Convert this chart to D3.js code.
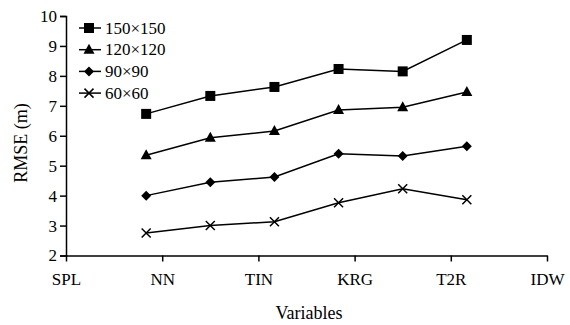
<!DOCTYPE html>
<html><head><meta charset="utf-8">
<script src="https://cdn.jsdelivr.net/npm/d3@7"></script>
<style>body{margin:0;background:#fff}svg{display:block}text{font-family:"Liberation Serif","Times New Roman",serif;fill:#000}</style>
</head><body>
<svg id="c" width="570" height="325"></svg>
<script>
const categories = ["SPL","NN","TIN","KRG","T2R","IDW"];
const seriesNames = ["150×150","120×120","90×90","60×60"];
const s150 = [6.73, 7.33, 7.63, 8.23, 8.15, 9.2];
const s120 = [5.35, 5.93, 6.16, 6.86, 6.95, 7.46];
const s90  = [4.0, 4.45, 4.62, 5.4, 5.32, 5.65];
const s60  = [2.75, 3.0, 3.13, 3.76, 4.23, 3.86];
const yTicks = [2,3,4,5,6,7,8,9,10];

const series = [
  {name: seriesNames[0], values: s150, sym: "square"},
  {name: seriesNames[1], values: s120, sym: "triangle"},
  {name: seriesNames[2], values: s90, sym: "diamond"},
  {name: seriesNames[3], values: s60, sym: "cross"}
];

const svg = d3.select("#c");
const L = 66, R = 547, T = 16, B = 255.5;
const x = d3.scalePoint().domain(categories).range([L, R]).padding(0);
const xd = d3.scalePoint().domain(categories).range([L, R]).padding(1.25);
const y = d3.scaleLinear().domain([2, 10]).range([B, T]);

const fs = "17px";
// Y axis
const ya = svg.append("g").attr("transform", `translate(${L},0)`)
  .call(d3.axisLeft(y).tickValues(yTicks).tickSize(6).tickPadding(3).tickFormat(d3.format("d")));
ya.select(".domain").attr("stroke", "#000").attr("stroke-width", 1.5);
ya.selectAll(".tick line").attr("stroke", "#000").attr("stroke-width", 1.5);
ya.selectAll("text").style("font-size", fs).style("font-family", "Liberation Serif");

// X axis
const xa = svg.append("g").attr("transform", `translate(0,${B})`)
  .call(d3.axisBottom(x).tickSize(6).tickSizeOuter(0).tickPadding(11));
xa.select(".domain").attr("stroke", "#000").attr("stroke-width", 1.5);
xa.selectAll(".tick line").attr("stroke", "#000").attr("stroke-width", 1.5);
xa.selectAll("text").style("font-size", fs).style("font-family", "Liberation Serif");

// titles
svg.append("text").attr("x", 309).attr("y", 319).attr("text-anchor", "middle")
  .style("font-size", "18px").text("Variables");
svg.append("text").attr("transform", `translate(27,143) rotate(-90)`)
  .attr("text-anchor", "middle").style("font-size", "18px").text("RMSE (m)");

function drawSym(g, sym, cx, cy) {
  if (sym === "square") {
    g.append("rect").attr("x", cx - 5).attr("y", cy - 5).attr("width", 10).attr("height", 10).attr("fill", "#000");
  } else if (sym === "triangle") {
    g.append("path").attr("d", `M${cx},${cy - 6}L${cx + 5.5},${cy + 4}L${cx - 5.5},${cy + 4}Z`).attr("fill", "#000");
  } else if (sym === "diamond") {
    g.append("path").attr("d", `M${cx},${cy - 5}L${cx + 5},${cy}L${cx},${cy + 5}L${cx - 5},${cy}Z`).attr("fill", "#000");
  } else {
    g.append("path").attr("d", `M${cx - 4.5},${cy - 4.5}L${cx + 4.5},${cy + 4.5}M${cx - 4.5},${cy + 4.5}L${cx + 4.5},${cy - 4.5}`)
      .attr("stroke", "#000").attr("stroke-width", 1.5);
  }
}

const line = d3.line().x((d, i) => xd(categories[i])).y(d => y(d));
series.forEach(s => {
  svg.append("path").attr("d", line(s.values)).attr("fill", "none").attr("stroke", "#000").attr("stroke-width", 1.5);
  const g = svg.append("g");
  s.values.forEach((v, i) => drawSym(g, s.sym, xd(categories[i]), y(v)));
});

// legend
series.forEach((s, i) => {
  const ly = 28 + i * 21.7;
  const g = svg.append("g");
  g.append("line").attr("x1", 79).attr("x2", 101).attr("y1", ly).attr("y2", ly).attr("stroke", "#000").attr("stroke-width", 1.5);
  drawSym(g, s.sym, 89, ly);
  g.append("text").attr("x", 105).attr("y", ly + 5.5).style("font-size", fs).text(s.name);
});
</script>
</body></html>
